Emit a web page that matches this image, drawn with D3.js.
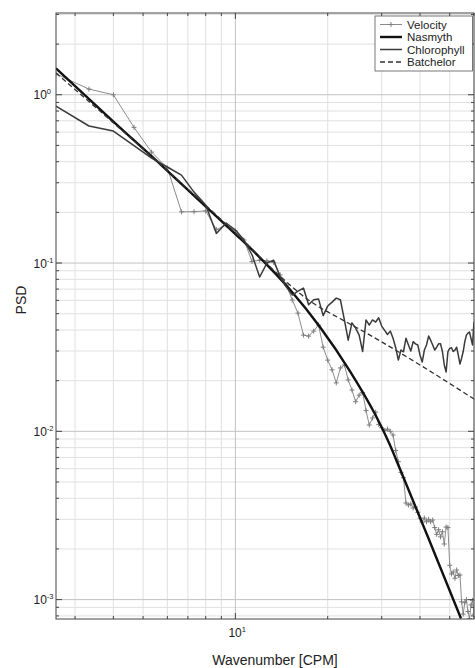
<!DOCTYPE html>
<html><head><meta charset="utf-8">
<script src="https://cdn.jsdelivr.net/npm/d3@7"></script>
<style>body{margin:0;background:#fff}svg{display:block;font-family:Arial,"Liberation Sans",Helvetica,sans-serif}</style>
</head><body><svg id="c" width="475" height="668"></svg>
<script>
// ---------------- data ----------------
const wavenumber = [2.6,3.33,4.00,4.67,5.33,6.00,6.67,7.33,8.00,8.67,9.33,10.00,10.67,11.33,12.00,12.67,13.33,14.00,14.67,15.33,16.00,16.67,17.33,18.00,18.67,19.33,20.00,20.67,21.33,22.00,22.67,23.33,24.00,24.67,25.33,26.00,26.67,27.33,28.00,28.67,29.33,30.00,30.67,31.33,32.00,32.67,33.33,34.00,34.67,35.33,36.00,36.67,37.33,38.00,38.67,39.33,40.00,40.67,41.33,42.00,42.67,43.33,44.00,44.67,45.33,46.00,46.67,47.33,48.00,48.67,49.33,50.00,50.67,51.33,52.00,52.67,53.33,54.00,54.67,55.33,56.00,56.67,57.33,58.00,58.67,59.33,60.00];
const velocity = [1.33,1.08,1.00,0.64,0.456,0.367,0.2015,0.202,0.204,0.158,0.168,0.155,0.137,0.102,0.104,0.103,0.101,0.085,0.0739,0.0603,0.0504,0.0373,0.0368,0.0394,0.0428,0.0316,0.0265,0.0232,0.0194,0.0238,0.0248,0.0202,0.0176,0.0150,0.0164,0.0170,0.0133,0.0109,0.0120,0.0130,0.0110,0.0105,0.0101,0.0103,0.0100,0.0095,0.0077,0.0066,0.0057,0.0053,0.00375,0.00365,0.0037,0.0035,0.00355,0.0033,0.00305,0.00289,0.00305,0.0029,0.0030,0.0029,0.00297,0.00268,0.00244,0.0026,0.00236,0.00253,0.00214,0.0027,0.00268,0.0016,0.00142,0.00146,0.00134,0.0015,0.00139,0.0014,0.00097,0.00082,0.00096,0.0010,0.00085,0.00077,0.00093,0.00099,0.00082];
const chlorophyll = [0.857,0.652,0.608,0.499,0.42,0.372,0.333,0.264,0.221,0.150,0.173,0.157,0.137,0.112,0.0826,0.100,0.104,0.0826,0.072,0.0645,0.068,0.071,0.0565,0.0605,0.0612,0.0487,0.0555,0.0586,0.0619,0.0605,0.0459,0.0348,0.0441,0.041,0.0373,0.0298,0.0459,0.0428,0.0459,0.0446,0.0473,0.0422,0.0398,0.0376,0.0394,0.0357,0.0314,0.0265,0.0304,0.0297,0.0357,0.0326,0.030,0.0341,0.0331,0.0326,0.0284,0.0258,0.0304,0.0326,0.0368,0.0348,0.0326,0.0304,0.0316,0.0331,0.0331,0.0298,0.0248,0.0225,0.0298,0.0311,0.0314,0.0298,0.0304,0.0316,0.0284,0.0251,0.0272,0.0298,0.0341,0.0373,0.0383,0.0389,0.0357,0.0326,0.0446];
const nasmythK = [2.6,4.0,5.8,7.66,10.0,12.02,15.06,18.87,23.63,28.52,31.92,34.42,43.11,54.43];
const nasmyth  = [1.435,0.693,0.3745,0.2335,0.1487,0.1078,0.0696,0.0417,0.02282,0.01267,0.00829,0.00597,0.0022,0.000772];
const batchelorK = [2.6,5.8,10.0,13.97,15.06,16.23,17.51,18.87,21.93,27.47,40.0,60.0];
const batchelor  = [1.346,0.3745,0.1508,0.0837,0.0740,0.0659,0.0594,0.0544,0.0468,0.0373,0.0248,0.01555];
const xMajorTicks = [10];
const xMajorExp = ["1"];
const yMajorTicks = [1, 0.1, 0.01, 0.001];
const yMajorExp = ["0", "-1", "-2", "-3"];
const legendLabels = ["Velocity", "Nasmyth", "Chlorophyll", "Batchelor"];
const xTitle = "Wavenumber [CPM]";
const yTitle = "PSD";

// ---------------- layout ----------------
const L = 56, R = 474, T = 13, B = 619;
const svg = d3.select("#c");
const x = d3.scaleLog().domain([2.6, 60]).range([L, R]);
const y = d3.scaleLog().domain([7.67e-4, 3.06]).range([B, T]);

// minor tick values (axis structure)
const xMinor = [], yMinor = [];
for (let e = 0; e <= 1; e++) for (let m = 2; m <= 9; m++) { const v = m * Math.pow(10, e); if (v >= 2.6 && v <= 60) xMinor.push(v); }
for (let e = -4; e <= 0; e++) for (let m = 2; m <= 9; m++) { const v = m * Math.pow(10, e); if (v >= 7.67e-4 && v <= 3.06) yMinor.push(v); }

// grid
const g = svg.append("g");
g.selectAll(".xmin").data(xMinor).join("line").attr("x1", d => x(d)).attr("x2", d => x(d)).attr("y1", T).attr("y2", B).attr("stroke", "#e0e0e0").attr("stroke-width", 1);
g.selectAll(".ymin").data(yMinor).join("line").attr("y1", d => y(d)).attr("y2", d => y(d)).attr("x1", L).attr("x2", R).attr("stroke", "#e0e0e0").attr("stroke-width", 1);
g.selectAll(".xmaj").data(xMajorTicks).join("line").attr("x1", d => x(d)).attr("x2", d => x(d)).attr("y1", T).attr("y2", B).attr("stroke", "#c2c2c2").attr("stroke-width", 1);
g.selectAll(".ymaj").data(yMajorTicks).join("line").attr("y1", d => y(d)).attr("y2", d => y(d)).attr("x1", L).attr("x2", R).attr("stroke", "#c2c2c2").attr("stroke-width", 1);

// clip
svg.append("clipPath").attr("id", "clip").append("rect").attr("x", L).attr("y", T).attr("width", R - L).attr("height", B - T);
const plot = svg.append("g").attr("clip-path", "url(#clip)");

const lineRaw = d3.line().x(d => x(d[0])).y(d => y(d[1]));
const lineSmooth = d3.line().x(d => x(d[0])).y(d => y(d[1])).curve(d3.curveMonotoneX);

const velPts = wavenumber.map((k, i) => [k, velocity[i]]);
const chlPts = wavenumber.map((k, i) => [k, chlorophyll[i]]);
const nasPts = nasmythK.map((k, i) => [k, nasmyth[i]]);
const batPts = batchelorK.map((k, i) => [k, batchelor[i]]);

// Velocity
plot.append("path").attr("d", lineRaw(velPts)).attr("fill", "none").attr("stroke", "#8c8c8c").attr("stroke-width", 1);
const plus = (sel, s) => sel.append("path").attr("d", d => { const px = x(d[0]), py = y(d[1]); return `M${px - s},${py}H${px + s}M${px},${py - s}V${py + s}`; });
plot.selectAll(".vm").data(velPts).join(enter => plus(enter, 2.5)).attr("stroke", "#7d7d7d").attr("stroke-width", 1).attr("fill", "none");

// Nasmyth
plot.append("path").attr("d", lineSmooth(nasPts)).attr("fill", "none").attr("stroke", "#111").attr("stroke-width", 2.4);
// Chlorophyll
plot.append("path").attr("d", lineRaw(chlPts)).attr("fill", "none").attr("stroke", "#3a3a3a").attr("stroke-width", 1.5).attr("stroke-linejoin", "round");
// Batchelor
plot.append("path").attr("d", lineSmooth(batPts)).attr("fill", "none").attr("stroke", "#333").attr("stroke-width", 1.3).attr("stroke-dasharray", "5,3");

// axes box
svg.append("rect").attr("x", L).attr("y", T).attr("width", R - L).attr("height", B - T).attr("fill", "none").attr("stroke", "#444").attr("stroke-width", 1);

// ticks (inward, all sides)
const tk = svg.append("g").attr("stroke", "#444").attr("stroke-width", 1);
xMinor.forEach(v => { tk.append("line").attr("x1", x(v)).attr("x2", x(v)).attr("y1", B).attr("y2", B - 3); tk.append("line").attr("x1", x(v)).attr("x2", x(v)).attr("y1", T).attr("y2", T + 3); });
xMajorTicks.forEach(v => { tk.append("line").attr("x1", x(v)).attr("x2", x(v)).attr("y1", B).attr("y2", B - 6); tk.append("line").attr("x1", x(v)).attr("x2", x(v)).attr("y1", T).attr("y2", T + 6); });
yMinor.forEach(v => { tk.append("line").attr("y1", y(v)).attr("y2", y(v)).attr("x1", L).attr("x2", L + 3); tk.append("line").attr("y1", y(v)).attr("y2", y(v)).attr("x1", R).attr("x2", R - 3); });
yMajorTicks.forEach(v => { tk.append("line").attr("y1", y(v)).attr("y2", y(v)).attr("x1", L).attr("x2", L + 6); tk.append("line").attr("y1", y(v)).attr("y2", y(v)).attr("x1", R).attr("x2", R - 6); });

// tick labels
yMajorTicks.forEach((v, i) => {
  const t = svg.append("text").attr("x", 33.5).attr("y", y(v) + 4.6).attr("font-size", 12).attr("fill", "#222");
  t.append("tspan").text("10");
  t.append("tspan").attr("font-size", 7.5).attr("dy", -5).text(yMajorExp[i]);
});
xMajorTicks.forEach((v, i) => {
  const t = svg.append("text").attr("x", x(v) - 7).attr("y", 637).attr("font-size", 12).attr("fill", "#222");
  t.append("tspan").text("10");
  t.append("tspan").attr("font-size", 7.5).attr("dy", -5).text(xMajorExp[i]);
});

// titles
svg.append("text").attr("x", 275).attr("y", 665).attr("text-anchor", "middle").attr("font-size", 14).attr("fill", "#222").text(xTitle);
svg.append("text").attr("transform", "translate(26,300) rotate(-90)").attr("text-anchor", "middle").attr("font-size", 14).attr("fill", "#222").text(yTitle);

// legend
const lg = svg.append("g");
lg.append("rect").attr("x", 375).attr("y", 16).attr("width", 97.5).attr("height", 55).attr("fill", "#fff").attr("stroke", "#555").attr("stroke-width", 0.8);
const rowY = [24.5, 37, 49.5, 62];
const styles = [
  {c: "#8c8c8c", w: 1, d: null, m: true},
  {c: "#111", w: 2.4, d: null},
  {c: "#3a3a3a", w: 1.5, d: null},
  {c: "#333", w: 1.3, d: "5,3"}
];
legendLabels.forEach((lab, i) => {
  const s = styles[i];
  const ln = lg.append("line").attr("x1", 380).attr("x2", 402).attr("y1", rowY[i]).attr("y2", rowY[i]).attr("stroke", s.c).attr("stroke-width", s.w);
  if (s.d) ln.attr("stroke-dasharray", s.d);
  if (s.m) lg.append("path").attr("d", `M388.5,${rowY[i]}H393.5M391,${rowY[i] - 2.5}V${rowY[i] + 2.5}`).attr("stroke", "#7d7d7d");
  lg.append("text").attr("x", 407).attr("y", rowY[i] + 4).attr("font-size", 11.5).attr("fill", "#222").text(lab);
});
</script></body></html>
